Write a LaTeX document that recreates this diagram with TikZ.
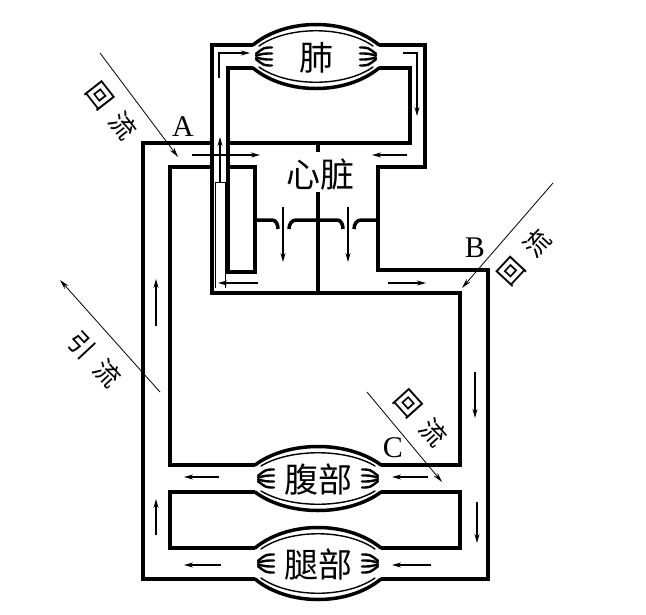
\documentclass[tikz,border=0pt]{standalone}
\usepackage{fontspec}
\setmainfont{Liberation Serif}
\newfontfamily\cjk{Noto Sans CJK SC}
\usetikzlibrary{arrows.meta}
\tikzset{
    wall/.style={line width=4.5pt, line join=miter},
    lens/.style={line width=3.5pt, line cap=round},
    lensin/.style={line width=1.4pt, line cap=round},
    fibre/.style={line width=2.4pt, line cap=round},
    valve/.style={line width=3.5pt},
    flow/.style={-{Stealth[length=9pt,width=5pt]}, line width=1.2pt},
    pointer/.style={-{Stealth[length=10pt,width=5pt]}, line width=0.8pt},
    organtext/.style={font=\cjk\fontsize{34}{38}\selectfont, inner sep=0pt},
    flowtext/.style={font=\cjk\fontsize{26}{30}\selectfont, inner sep=0pt},
    letter/.style={font=\fontsize{30}{34}\selectfont, inner sep=0pt}
}
\newcommand{\organ}[5]{%
  \begin{scope}[shift={#2}]
    \pgfmathsetmacro\ctl{(#4-0.25*#3)/0.75}
    \draw[lens] (-63,-#3) .. controls (-30,-\ctl) and (30,-\ctl) .. (63,-#3);
    \draw[lens] (-63,#3) .. controls (-30,\ctl) and (30,\ctl) .. (63,#3);
    \draw[lensin] (-57,-#3+1) .. controls (-28,-\ctl+8) and (28,-\ctl+8) .. (57,-#3+1);
    \draw[lensin] (-57,#3-1) .. controls (-28,\ctl-8) and (28,\ctl-8) .. (57,#3-1);
    \foreach \d in {-9,-3,3,9} {
      \draw[fibre] (-60,0.3*\d) .. controls (-52,\d) .. (-44,\d);
      \draw[fibre] (60,0.3*\d) .. controls (52,\d) .. (44,\d);
    }
    \node[organtext] (#1) at (0,1) {#5};
  \end{scope}}

\begin{document}
\begin{tikzpicture}[x=1pt, y=-1pt]
  \useasboundingbox (0,0) rectangle (646,614);

  \draw[wall] (253,45) -- (212,45) -- (212,293) -- (460,293) -- (460,465) -- (381,465);
  \draw[wall] (379,45) -- (425,45) -- (425,167) -- (378,167) -- (378,270) -- (488,270) -- (488,579) -- (381,579);
  \draw[wall] (255,579) -- (143,579) -- (143,143) -- (212,143);
  \draw[wall] (253,68) -- (228,68) -- (228,272) -- (255,272) -- (255,167) -- (228,167);
  \draw[wall] (228,143) -- (410,143) -- (410,68) -- (379,68);
  \draw[wall] (255,465) -- (170,465) -- (170,167) -- (212,167);
  \draw[wall] (255,492) -- (170,492) -- (170,548) -- (255,548);
  \draw[wall] (381,492) -- (460,492) -- (460,548) -- (381,548);
  \draw[wall] (318,143) -- (318,152);
  \draw[wall] (318,192) -- (318,293);
  \draw[line width=0.7pt] (215,288) -- (215,182) -- (225,182) -- (225,288);

  \draw[valve] (255,220) -- (272,220) to[out=0, in=90] (278,229);
  \draw[valve] (289,229) to[out=90, in=180] (296,220) -- (337,220) to[out=0, in=90] (343,229);
  \draw[valve] (354,229) to[out=90, in=180] (361,220) -- (378,220);

  \organ{lung}{(316,56.5)}{11.5}{32}{肺}
  \organ{belly}{(318,478.5)}{13.5}{32}{腹部}
  \organ{legs}{(318,563.5)}{15.5}{36}{腿部}
  \node[organtext] (heart) at (320,175) {心脏};

  \draw[flow] (219,78) -- (219,53) -- (250,53);
  \draw[flow] (403,53) -- (417,53) -- (417,116);
  \draw[flow] (220,182) -- (220,137);
  \draw[flow] (192,155) -- (260,155);
  \draw[flow] (407,155) -- (372,155);
  \draw[flow] (283,207) -- (283,262);
  \draw[flow] (348,207) -- (348,262);
  \draw[flow] (258,283) -- (218,283);
  \draw[flow] (388,283) -- (426,283);
  \draw[flow] (156,326) -- (156,279);
  \draw[flow] (156,535) -- (156,499);
  \draw[flow] (475,372) -- (475,418);
  \draw[flow] (477,502) -- (477,543);
  \draw[flow] (219,477) -- (184,477);
  \draw[flow] (428,477) -- (392,477);
  \draw[flow] (221,565) -- (184,565);
  \draw[flow] (431,565) -- (392,565);

  \coordinate (inA) at (100,53);
  \coordinate (atA) at (178,157);
  \coordinate (outL) at (160,392);
  \coordinate (tipL) at (60,280);
  \coordinate (inB) at (553,183);
  \coordinate (atB) at (462,288);
  \coordinate (inC) at (367,392);
  \coordinate (atC) at (442,482);
  \draw[pointer] (inA) -- (atA);
  \draw[pointer] (outL) -- (tipL);
  \draw[pointer] (inB) -- (atB);
  \draw[pointer] (inC) -- (atC);

  \node[letter] (A) at (183,127) {A};
  \node[letter] (B) at (475,248) {B};
  \node[letter] (C) at (393,448) {C};
  \node[flowtext, rotate=-52] (backA) at (112,111) {回\hspace{12pt}流};
  \node[flowtext, rotate=-47] (drain) at (95,359) {引\hspace{12pt}流};
  \node[flowtext, rotate=47] (backB) at (524,257) {回\hspace{12pt}流};
  \node[flowtext, rotate=-48] (backC) at (421,418) {回\hspace{12pt}流};
\end{tikzpicture}
\end{document}
